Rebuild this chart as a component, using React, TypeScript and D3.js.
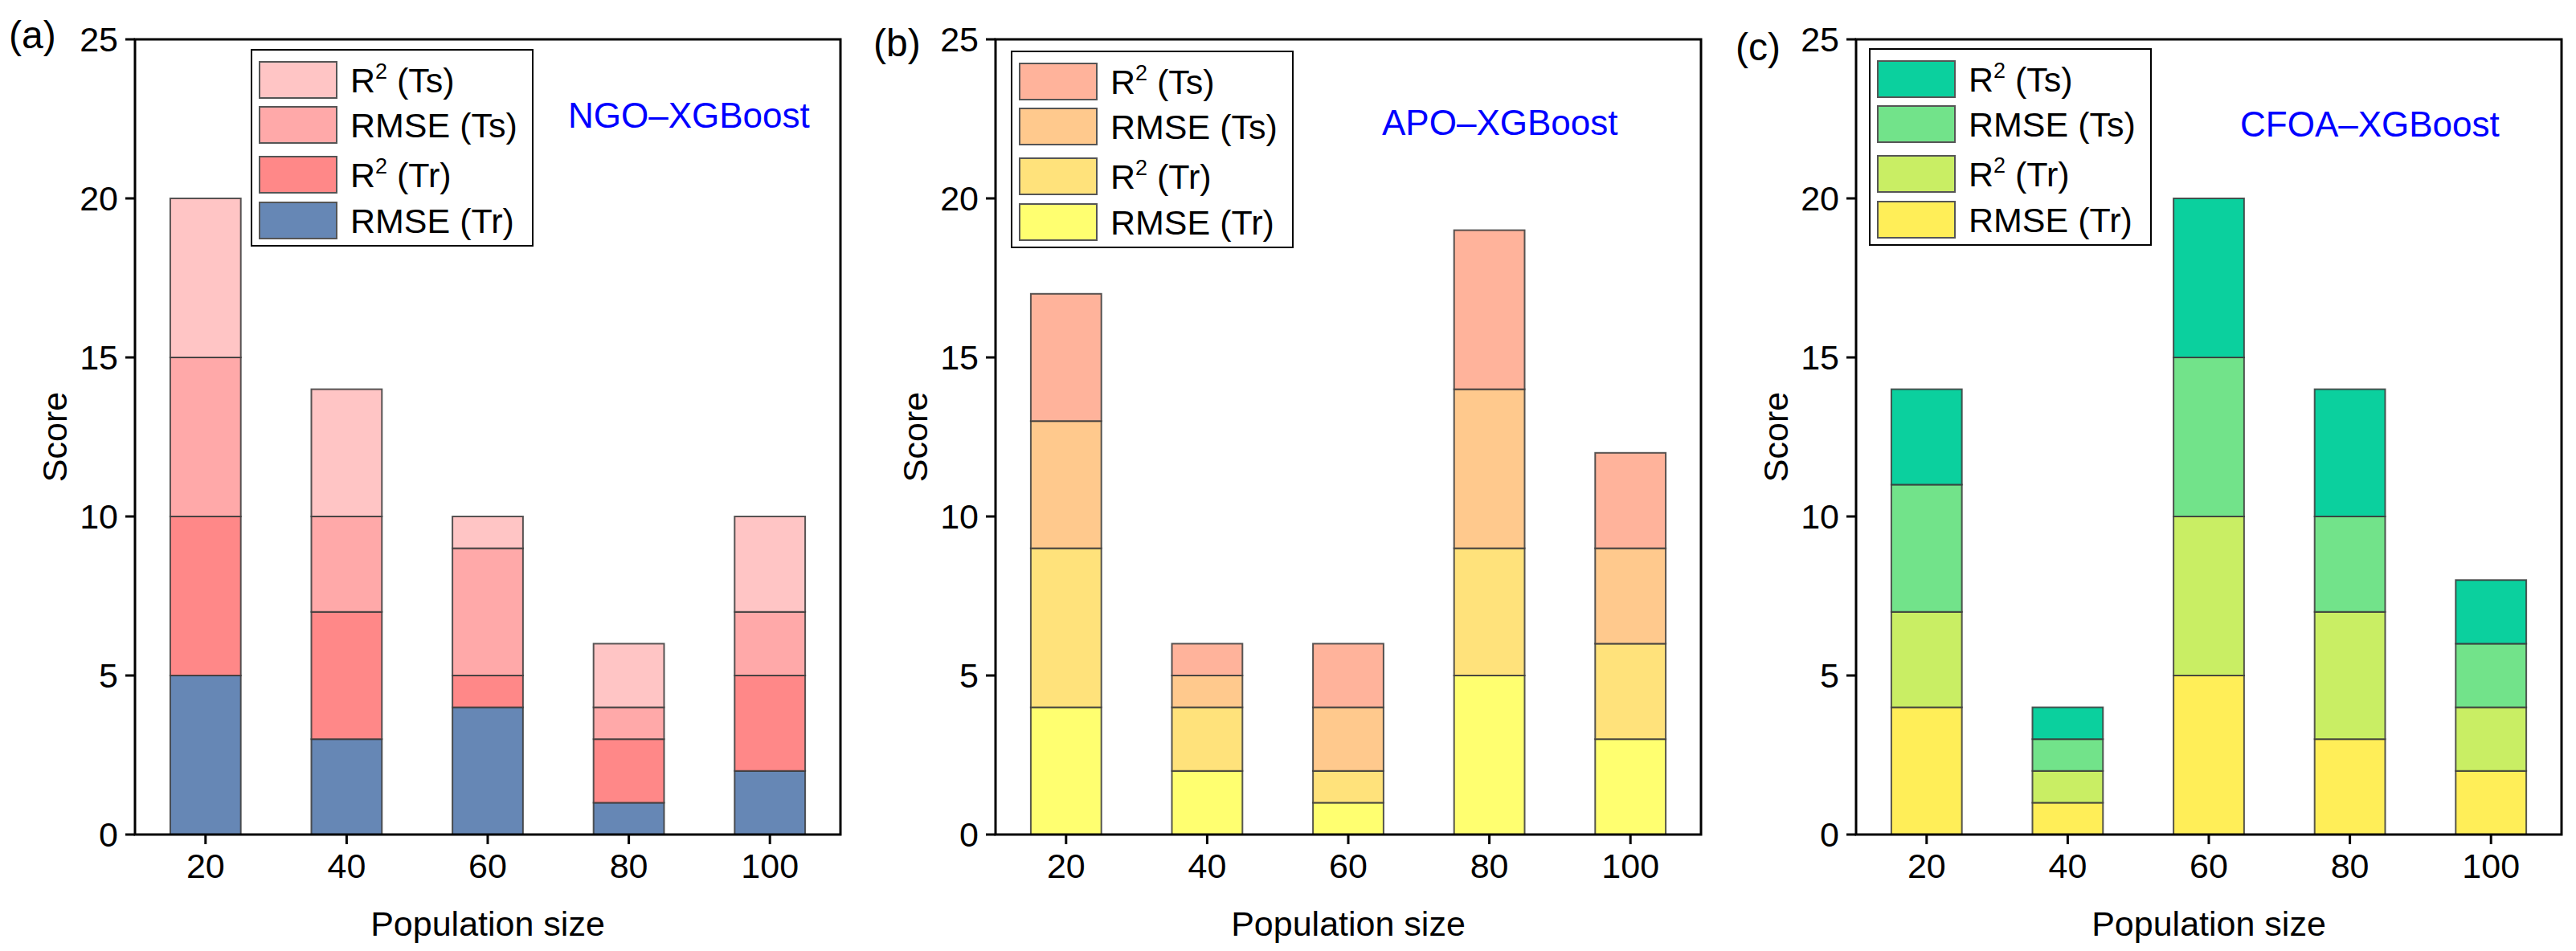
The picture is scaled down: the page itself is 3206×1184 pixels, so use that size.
import { useEffect, useRef } from "react";
import * as d3 from "d3";

// population sizes on the x axis
const sizes = ["20", "40", "60", "80", "100"];
const yTicks = [0, 5, 10, 15, 20, 25];

// stacked from the bottom: RMSE (Tr), R² (Tr), RMSE (Ts), R² (Ts)
const ngoRmseTr = [5, 3, 4, 1, 2];
const ngoR2Tr = [5, 4, 1, 2, 3];
const ngoRmseTs = [5, 3, 4, 1, 2];
const ngoR2Ts = [5, 4, 1, 2, 3];

const apoRmseTr = [4, 2, 1, 5, 3];
const apoR2Tr = [5, 2, 1, 4, 3];
const apoRmseTs = [4, 1, 2, 5, 3];
const apoR2Ts = [4, 1, 2, 5, 3];

const cfoaRmseTr = [4, 1, 5, 3, 2];
const cfoaR2Tr = [3, 1, 5, 4, 2];
const cfoaRmseTs = [4, 1, 5, 3, 2];
const cfoaR2Ts = [3, 1, 5, 4, 2];

// legend order, top to bottom
const legendLabels = [
  { base: "R", sup: "2", rest: " (Ts)" },
  { base: "RMSE (Ts)", sup: "", rest: "" },
  { base: "R", sup: "2", rest: " (Tr)" },
  { base: "RMSE (Tr)", sup: "", rest: "" },
];

interface Panel {
  tag: string;
  title: string;
  series: number[][]; // bottom -> top
  colors: string[]; // bottom -> top
}

const panels: Panel[] = [
  {
    tag: "(a)",
    title: "NGO\u2013XGBoost",
    series: [ngoRmseTr, ngoR2Tr, ngoRmseTs, ngoR2Ts],
    colors: ["#6687b5", "#ff8888", "#ffa9a9", "#ffc5c5"],
  },
  {
    tag: "(b)",
    title: "APO\u2013XGBoost",
    series: [apoRmseTr, apoR2Tr, apoRmseTs, apoR2Ts],
    colors: ["#ffff70", "#ffe27b", "#ffc98d", "#ffb39b"],
  },
  {
    tag: "(c)",
    title: "CFOA\u2013XGBoost",
    series: [cfoaRmseTr, cfoaR2Tr, cfoaRmseTs, cfoaR2Ts],
    colors: ["#ffee58", "#c9ee64", "#72e38a", "#0bd09e"],
  },
];

const W = 3206;
const H = 1184;
const FONT = "'Liberation Sans', Arial, Helvetica, sans-serif";

export default function App() {
  const svgRef = useRef<SVGSVGElement>(null);

  useEffect(() => {
    if (!svgRef.current) return;
    const svg = d3.select(svgRef.current);
    svg.selectAll("*").remove();

    const top = 49;
    const bottom = 1039;
    const plotW = 878;
    const lefts = [168, 1239, 2310];
    const legendX = [313, 1259, 2327];
    const legendY = [62, 64, 61];
    const titlePos = [
      [707, 159],
      [1720, 168],
      [2788, 170],
    ];
    const tagPos = [
      [11, 60],
      [1087, 70],
      [2160, 75],
    ];

    const y = d3.scaleLinear().domain([0, 25]).range([bottom, top]);

    panels.forEach((p, pi) => {
      const left = lefts[pi];
      const x = d3
        .scaleBand<string>()
        .domain(sizes)
        .range([left, left + plotW])
        .paddingInner(0.5)
        .paddingOuter(0.25);

      const g = svg.append("g");

      // stacked bars
      const rows = sizes.map((s, i) => {
        const r: Record<string, number | string> = { size: s };
        p.series.forEach((ser, k) => (r["k" + k] = ser[i]));
        return r;
      });
      const keys = p.series.map((_, k) => "k" + k);
      const stack = d3.stack<Record<string, number | string>>().keys(keys);
      const layers = stack(rows as never);

      layers.forEach((layer, k) => {
        g.selectAll(`rect.s${k}`)
          .data(layer)
          .join("rect")
          .attr("class", `s${k}`)
          .attr("x", (d) => x(String(d.data.size))!)
          .attr("width", x.bandwidth())
          .attr("y", (d) => y(d[1]))
          .attr("height", (d) => y(d[0]) - y(d[1]))
          .attr("fill", p.colors[k])
          .attr("stroke", "#3a3a3a")
          .attr("stroke-opacity", 0.85)
          .attr("stroke-width", 2);
      });

      // frame
      g.append("rect")
        .attr("x", left)
        .attr("y", top)
        .attr("width", plotW)
        .attr("height", bottom - top)
        .attr("fill", "none")
        .attr("stroke", "#000")
        .attr("stroke-width", 3);

      // y ticks
      yTicks.forEach((t) => {
        g.append("line")
          .attr("x1", left - 12)
          .attr("x2", left)
          .attr("y1", y(t))
          .attr("y2", y(t))
          .attr("stroke", "#000")
          .attr("stroke-width", 3);
        g.append("text")
          .attr("x", left - 21)
          .attr("y", y(t))
          .attr("dy", "0.36em")
          .attr("text-anchor", "end")
          .style("font-family", FONT)
          .style("font-size", "43px")
          .text(t);
      });

      // x ticks
      sizes.forEach((s) => {
        const cx = x(s)! + x.bandwidth() / 2;
        g.append("line")
          .attr("x1", cx)
          .attr("x2", cx)
          .attr("y1", bottom)
          .attr("y2", bottom + 12)
          .attr("stroke", "#000")
          .attr("stroke-width", 3);
        g.append("text")
          .attr("x", cx)
          .attr("y", 1093)
          .attr("text-anchor", "middle")
          .style("font-family", FONT)
          .style("font-size", "43px")
          .text(s);
      });

      // axis titles
      g.append("text")
        .attr("x", left + plotW / 2)
        .attr("y", 1165)
        .attr("text-anchor", "middle")
        .style("font-family", FONT)
        .style("font-size", "43px")
        .text("Population size");

      g.append("text")
        .attr("transform", `translate(${left - 85},${(top + bottom) / 2}) rotate(-90)`)
        .attr("text-anchor", "middle")
        .style("font-family", FONT)
        .style("font-size", "43px")
        .text("Score");

      // panel tag
      g.append("text")
        .attr("x", tagPos[pi][0])
        .attr("y", tagPos[pi][1])
        .style("font-family", FONT)
        .style("font-size", "48px")
        .text(p.tag);

      // model name
      g.append("text")
        .attr("x", titlePos[pi][0])
        .attr("y", titlePos[pi][1])
        .style("font-family", FONT)
        .style("font-size", "44px")
        .style("fill", "#0000ff")
        .text(p.title);

      // legend
      const lg = g.append("g").attr("transform", `translate(${legendX[pi]},${legendY[pi]})`);
      lg.append("rect")
        .attr("width", 350)
        .attr("height", 244)
        .attr("fill", "#fff")
        .attr("stroke", "#000")
        .attr("stroke-width", 2);
      const rowY = [15, 71, 133, 190];
      legendLabels.forEach((lab, i) => {
        const color = p.colors[3 - i];
        lg.append("rect")
          .attr("x", 10)
          .attr("y", rowY[i])
          .attr("width", 96)
          .attr("height", 45)
          .attr("fill", color)
          .attr("stroke", "#555")
          .attr("stroke-width", 2);
        const t = lg
          .append("text")
          .attr("x", 123)
          .attr("y", rowY[i] + 38)
          .style("font-family", FONT)
          .style("font-size", "43px");
        t.append("tspan").text(lab.base);
        if (lab.sup) {
          t.append("tspan").attr("dy", -17).style("font-size", "27px").text(lab.sup);
          t.append("tspan").attr("dy", 17).text(lab.rest);
        }
      });
    });
  }, []);

  return (
    <svg
      ref={svgRef}
      width={W}
      height={H}
      style={{ position: "absolute", left: 0, top: 0, display: "block", background: "#fff" }}
      role="img"
      aria-label="Stacked score bars by population size"
    />
  );
}
